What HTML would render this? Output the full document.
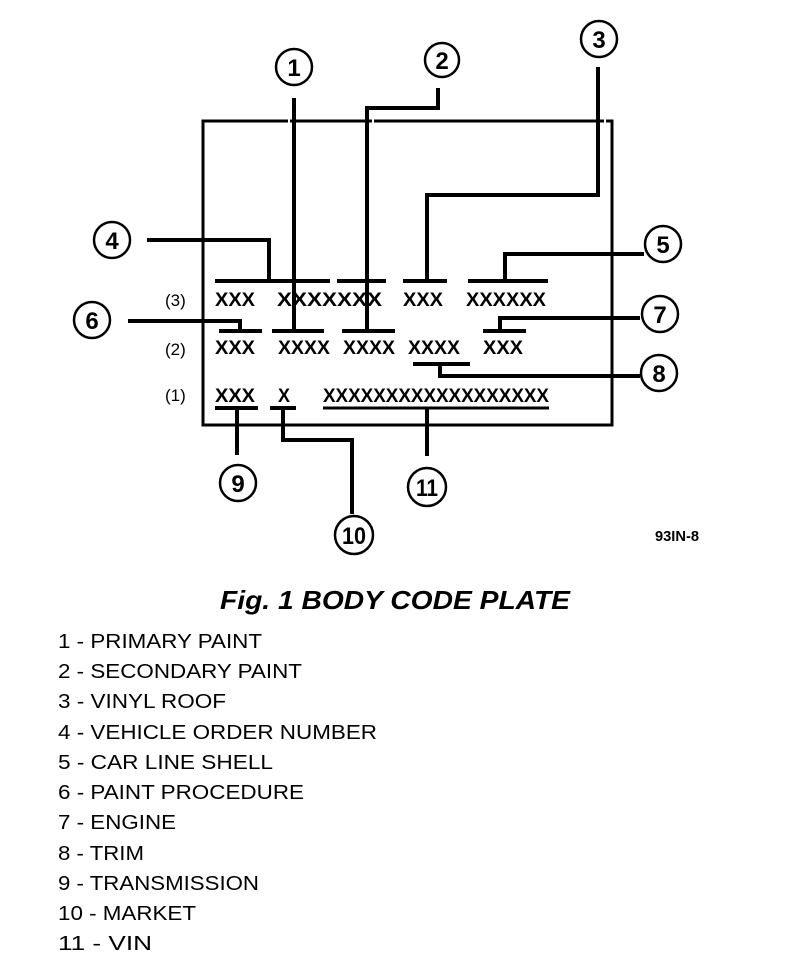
<!DOCTYPE html>
<html><head><meta charset="utf-8"><style>
html,body{margin:0;padding:0;background:#fff;}
svg{display:block;}
text{font-family:"Liberation Sans",Arial,sans-serif;fill:#000;}
</style></head><body>
<svg width="800" height="962" viewBox="0 0 800 962" xmlns="http://www.w3.org/2000/svg">
<g stroke="#000" fill="none" stroke-width="3">
<!-- frame -->
<path d="M203 425 L203 121 L612 121 L612 425 Z"/>
</g>
<g stroke="#fff" stroke-width="5">
<line x1="288" y1="121" x2="290" y2="121"/>
<line x1="372" y1="121" x2="374" y2="121"/>
<line x1="604" y1="121" x2="606" y2="121"/>
</g>
<g stroke="#000" fill="none" stroke-width="4">
<!-- 1 -->
<line x1="294" y1="98" x2="294" y2="331"/>
<line x1="272" y1="331" x2="324" y2="331"/>
<!-- 2 -->
<polyline points="438,88 438,108 367,108 367,331"/>
<line x1="342" y1="331" x2="395" y2="331"/>
<!-- 3 -->
<polyline points="598,67 598,195 427,195 427,281"/>
<line x1="403" y1="281" x2="447" y2="281"/>
<!-- 4 -->
<polyline points="147,240 269,240 269,281"/>
<line x1="215" y1="281" x2="330" y2="281"/>
<line x1="337" y1="281" x2="386" y2="281"/>
<!-- 5 -->
<polyline points="644,254 505,254 505,281"/>
<line x1="468" y1="281" x2="548" y2="281"/>
<!-- 6 -->
<polyline points="128,321 240,321 240,331"/>
<line x1="219" y1="331" x2="262" y2="331"/>
<!-- 7 -->
<polyline points="640,318 500,318 500,331"/>
<line x1="483" y1="331" x2="526" y2="331"/>
<!-- 8 -->
<line x1="413" y1="364" x2="470" y2="364"/>
<polyline points="440,364 440,376 640,376"/>
<!-- 9 -->
<line x1="215" y1="408" x2="258" y2="408"/>
<line x1="237" y1="408" x2="237" y2="455"/>
<!-- 10 -->
<line x1="270" y1="408" x2="296" y2="408"/>
<polyline points="283,408 283,440 352,440 352,514"/>
<!-- 11 -->
<line x1="323" y1="408" x2="549" y2="408" stroke-width="3"/>
<line x1="427" y1="408" x2="427" y2="456"/>
</g>
<!-- circles -->
<g stroke="#000" stroke-width="2.5" fill="#fff">
<circle cx="294" cy="67" r="18"/>
<circle cx="442" cy="60" r="17"/>
<circle cx="599" cy="39" r="18"/>
<circle cx="112" cy="240" r="18"/>
<circle cx="663" cy="244" r="18"/>
<circle cx="92" cy="320" r="18"/>
<circle cx="660" cy="314" r="18"/>
<circle cx="659" cy="373" r="18"/>
<circle cx="238" cy="483" r="18"/>
<circle cx="354" cy="535" r="19"/>
<circle cx="427" cy="487" r="19"/>
</g>
<g font-weight="bold" font-size="24" text-anchor="middle">
<text x="294" y="76">1</text>
<text x="442" y="69">2</text>
<text x="599" y="48">3</text>
<text x="112" y="249">4</text>
<text x="663" y="253">5</text>
<text x="92" y="329">6</text>
<text x="660" y="323">7</text>
<text x="659" y="382">8</text>
<text x="238" y="492">9</text>
<text x="354" y="544" textLength="24" lengthAdjust="spacingAndGlyphs">10</text>
<text x="427" y="496" textLength="22" lengthAdjust="spacingAndGlyphs">11</text>
</g>
<!-- rows -->
<g font-size="17">
<text x="165" y="306">(3)</text>
<text x="165" y="355">(2)</text>
<text x="165" y="401">(1)</text>
</g>
<g font-size="19" font-weight="bold">
<text x="215" y="306" textLength="40" lengthAdjust="spacingAndGlyphs">XXX</text>
<text x="277" y="306" textLength="105" lengthAdjust="spacingAndGlyphs">XXXXXXX</text>
<text x="403" y="306" textLength="40" lengthAdjust="spacingAndGlyphs">XXX</text>
<text x="466" y="306" textLength="80" lengthAdjust="spacingAndGlyphs">XXXXXX</text>
<text x="215" y="354" textLength="40" lengthAdjust="spacingAndGlyphs">XXX</text>
<text x="278" y="354" textLength="52" lengthAdjust="spacingAndGlyphs">XXXX</text>
<text x="343" y="354" textLength="52" lengthAdjust="spacingAndGlyphs">XXXX</text>
<text x="408" y="354" textLength="52" lengthAdjust="spacingAndGlyphs">XXXX</text>
<text x="483" y="354" textLength="40" lengthAdjust="spacingAndGlyphs">XXX</text>
<text x="215" y="402" textLength="40" lengthAdjust="spacingAndGlyphs">XXX</text>
<text x="278" y="402" textLength="12" lengthAdjust="spacingAndGlyphs">X</text>
<text x="323" y="402" textLength="226" lengthAdjust="spacingAndGlyphs">XXXXXXXXXXXXXXXXXX</text>
</g>
<text x="655" y="541" font-size="15" font-weight="bold" textLength="44" lengthAdjust="spacingAndGlyphs">93IN-8</text>
<text x="220" y="609" font-size="26" font-weight="bold" font-style="italic" textLength="350" lengthAdjust="spacingAndGlyphs">Fig. 1 BODY CODE PLATE</text>
<g font-size="20">
<text x="58" y="648" textLength="204" lengthAdjust="spacingAndGlyphs">1 - PRIMARY PAINT</text>
<text x="58" y="678" textLength="244" lengthAdjust="spacingAndGlyphs">2 - SECONDARY PAINT</text>
<text x="58" y="708" textLength="168" lengthAdjust="spacingAndGlyphs">3 - VINYL ROOF</text>
<text x="58" y="739" textLength="319" lengthAdjust="spacingAndGlyphs">4 - VEHICLE ORDER NUMBER</text>
<text x="58" y="769" textLength="215" lengthAdjust="spacingAndGlyphs">5 - CAR LINE SHELL</text>
<text x="58" y="799" textLength="246" lengthAdjust="spacingAndGlyphs">6 - PAINT PROCEDURE</text>
<text x="58" y="829" textLength="118" lengthAdjust="spacingAndGlyphs">7 - ENGINE</text>
<text x="58" y="860" textLength="86" lengthAdjust="spacingAndGlyphs">8 - TRIM</text>
<text x="58" y="890" textLength="201" lengthAdjust="spacingAndGlyphs">9 - TRANSMISSION</text>
<text x="58" y="920" textLength="138" lengthAdjust="spacingAndGlyphs">10 - MARKET</text>
<text x="58" y="950" textLength="94" lengthAdjust="spacingAndGlyphs">11 - VIN</text>
</g>
</svg>
</body></html>
